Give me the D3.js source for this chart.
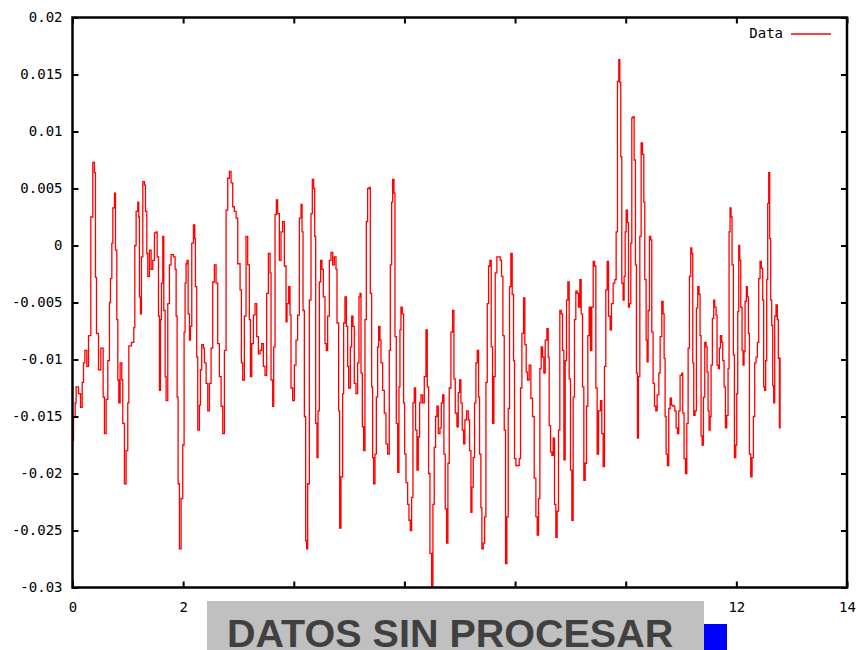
<!DOCTYPE html>
<html><head><meta charset="utf-8">
<script src="https://cdn.jsdelivr.net/npm/d3@7"></script>
<style>body{margin:0;background:#fff}</style>
</head><body>
<svg id="chart" width="859" height="650"></svg>
<script>
const times=[
0.000,0.018,0.048,0.066,0.108,0.145,0.175,0.199,0.223,0.259,
0.289,0.331,0.367,0.397,0.415,0.434,0.470,0.512,0.554,0.578,
0.608,0.638,0.668,0.686,0.711,0.729,0.759,0.777,0.801,0.819,
0.837,0.861,0.891,0.909,0.939,0.969,0.999,1.018,1.066,1.108,
1.126,1.150,1.180,1.198,1.210,1.228,1.246,1.271,1.301,1.319,
1.343,1.361,1.391,1.421,1.451,1.481,1.511,1.530,1.554,1.572,
1.590,1.608,1.632,1.650,1.674,1.692,1.722,1.752,1.782,1.825,
1.855,1.873,1.891,1.909,1.933,1.963,1.993,2.017,2.035,2.053,
2.071,2.090,2.114,2.132,2.156,2.186,2.210,2.222,2.246,2.264,
2.294,2.312,2.336,2.366,2.385,2.415,2.445,2.475,2.505,2.535,
2.565,2.595,2.625,2.655,2.686,2.716,2.746,2.776,2.806,2.836,
2.866,2.896,2.926,2.957,2.987,3.029,3.053,3.077,3.107,3.137,
3.167,3.197,3.216,3.240,3.270,3.300,3.330,3.360,3.390,3.420,
3.450,3.480,3.510,3.541,3.571,3.589,3.619,3.637,3.661,3.685,
3.709,3.739,3.769,3.799,3.830,3.860,3.878,3.908,3.932,3.950,
3.980,4.010,4.040,4.070,4.101,4.131,4.149,4.167,4.191,4.215,
4.233,4.251,4.281,4.311,4.335,4.360,4.378,4.396,4.420,4.438,
4.462,4.486,4.510,4.534,4.564,4.588,4.612,4.643,4.673,4.703,
4.733,4.763,4.781,4.811,4.829,4.853,4.883,4.901,4.925,4.950,
4.974,4.992,5.022,5.046,5.070,5.094,5.124,5.154,5.178,5.197,
5.215,5.239,5.263,5.287,5.311,5.335,5.365,5.383,5.407,5.425,
5.443,5.468,5.492,5.516,5.534,5.558,5.576,5.606,5.636,5.666,
5.696,5.726,5.745,5.769,5.787,5.811,5.829,5.853,5.877,5.901,
5.919,5.937,5.961,5.985,6.004,6.028,6.058,6.082,6.106,6.130,
6.154,6.178,6.202,6.226,6.250,6.274,6.299,6.329,6.359,6.389,
6.413,6.437,6.461,6.491,6.515,6.539,6.563,6.587,6.612,6.642,
6.666,6.690,6.714,6.738,6.762,6.786,6.810,6.840,6.870,6.895,
6.919,6.949,6.973,6.997,7.021,7.045,7.069,7.093,7.123,7.154,
7.178,7.202,7.220,7.244,7.268,7.292,7.316,7.340,7.358,7.382,
7.400,7.425,7.449,7.473,7.497,7.521,7.545,7.569,7.593,7.617,
7.641,7.671,7.702,7.732,7.756,7.780,7.804,7.828,7.852,7.876,
7.900,7.924,7.948,7.972,7.990,8.015,8.045,8.075,8.099,8.123,
8.153,8.177,8.201,8.225,8.255,8.286,8.316,8.346,8.376,8.400,
8.424,8.448,8.472,8.496,8.520,8.545,8.575,8.599,8.617,8.641,
8.665,8.689,8.713,8.737,8.761,8.785,8.809,8.834,8.858,8.882,
8.906,8.930,8.954,8.978,9.002,9.026,9.050,9.074,9.098,9.123,
9.147,9.171,9.195,9.219,9.243,9.267,9.291,9.315,9.339,9.363,
9.387,9.412,9.436,9.460,9.484,9.508,9.544,9.568,9.592,9.616,
9.640,9.665,9.689,9.719,9.743,9.773,9.803,9.827,9.851,9.875,
9.893,9.911,9.929,9.953,9.971,9.990,10.008,10.032,10.050,10.068,
10.092,10.110,10.134,10.152,10.176,10.194,10.212,10.230,10.255,10.279,
10.303,10.327,10.345,10.369,10.387,10.405,10.429,10.453,10.471,10.495,
10.520,10.544,10.568,10.598,10.622,10.652,10.676,10.694,10.712,10.730,
10.754,10.778,10.803,10.827,10.857,10.887,10.911,10.935,10.959,10.983,
11.013,11.031,11.055,11.080,11.104,11.128,11.152,11.176,11.194,11.212,
11.230,11.254,11.278,11.302,11.326,11.344,11.362,11.381,11.405,11.429,
11.453,11.471,11.489,11.507,11.525,11.543,11.567,11.591,11.609,11.633,
11.651,11.675,11.693,11.712,11.736,11.754,11.778,11.802,11.826,11.850,
11.868,11.886,11.904,11.922,11.946,11.965,11.989,12.007,12.025,12.043,
12.061,12.079,12.103,12.121,12.139,12.157,12.181,12.199,12.218,12.236,
12.260,12.284,12.308,12.332,12.356,12.380,12.404,12.428,12.452,12.476,
12.494,12.512,12.530,12.549,12.567,12.585,12.603,12.621,12.639,12.657,
12.675,12.693,12.717,12.741,12.759,12.778,12.790];

const values=[
-0.0171,-0.0150,-0.0138,-0.0124,-0.0130,-0.0142,-0.0120,-0.0103,-0.0092,-0.0106,
-0.0079,0.0025,0.0073,0.0064,-0.0028,-0.0077,-0.0109,-0.0090,-0.0133,-0.0165,
-0.0135,-0.0101,-0.0050,-0.0029,0.0002,0.0033,0.0046,-0.0004,-0.0065,-0.0118,
-0.0138,-0.0103,-0.0118,-0.0156,-0.0209,-0.0180,-0.0138,-0.0088,-0.0085,-0.0072,
0.0000,0.0030,0.0038,0.0025,-0.0045,-0.0060,-0.0010,0.0056,0.0053,0.0030,
-0.0007,-0.0027,-0.0004,-0.0021,-0.0013,0.0011,0.0012,-0.0010,-0.0062,-0.0127,
-0.0065,-0.0033,0.0008,-0.0057,-0.0115,-0.0136,-0.0051,-0.0017,-0.0008,-0.0010,
-0.0021,-0.0062,-0.0133,-0.0209,-0.0266,-0.0222,-0.0175,-0.0076,-0.0033,-0.0016,
-0.0013,-0.0060,-0.0083,-0.0071,0.0002,0.0018,0.0006,-0.0036,-0.0098,-0.0162,
-0.0140,-0.0109,-0.0087,-0.0090,-0.0103,-0.0121,-0.0145,-0.0121,-0.0090,-0.0032,
-0.0017,-0.0033,-0.0086,-0.0115,-0.0141,-0.0165,-0.0092,0.0031,0.0059,0.0065,
0.0055,0.0034,0.0030,0.0024,-0.0016,-0.0039,-0.0103,-0.0118,-0.0062,0.0008,
-0.0017,-0.0065,-0.0115,-0.0086,-0.0061,-0.0051,-0.0080,-0.0095,-0.0092,-0.0086,
-0.0106,-0.0114,-0.0042,-0.0007,-0.0024,-0.0118,-0.0141,-0.0089,0.0027,0.0040,
0.0028,-0.0013,0.0012,0.0021,-0.0018,-0.0067,-0.0051,-0.0036,-0.0061,-0.0125,
-0.0136,-0.0105,-0.0083,-0.0061,0.0024,0.0036,0.0012,-0.0057,-0.0150,-0.0259,
-0.0266,-0.0209,-0.0048,0.0028,0.0058,0.0050,0.0008,-0.0156,-0.0186,-0.0145,
-0.0032,-0.0013,-0.0021,-0.0045,-0.0086,-0.0092,-0.0062,-0.0013,-0.0006,-0.0017,
-0.0010,-0.0021,-0.0068,-0.0145,-0.0248,-0.0203,-0.0130,-0.0068,-0.0045,-0.0071,
-0.0106,-0.0125,-0.0089,-0.0062,-0.0071,-0.0121,-0.0130,-0.0103,-0.0045,-0.0042,
-0.0112,-0.0159,-0.0180,-0.0065,0.0021,0.0050,0.0051,-0.0042,-0.0124,-0.0186,
-0.0209,-0.0183,-0.0133,-0.0089,-0.0071,-0.0083,-0.0103,-0.0127,-0.0147,-0.0174,
-0.0183,-0.0092,-0.0017,0.0038,0.0058,0.0046,-0.0080,-0.0156,-0.0199,-0.0124,
-0.0074,-0.0054,-0.0060,-0.0138,-0.0183,-0.0208,-0.0227,-0.0241,-0.0250,-0.0221,
-0.0138,-0.0125,-0.0162,-0.0197,-0.0168,-0.0138,-0.0131,-0.0138,-0.0115,-0.0074,
-0.0124,-0.0200,-0.0270,-0.0300,-0.0227,-0.0177,-0.0150,-0.0141,-0.0165,-0.0160,
-0.0138,-0.0131,-0.0183,-0.0231,-0.0261,-0.0191,-0.0125,-0.0076,-0.0057,-0.0117,
-0.0147,-0.0159,-0.0129,-0.0118,-0.0138,-0.0162,-0.0174,-0.0153,-0.0145,-0.0153,
-0.0180,-0.0234,-0.0212,-0.0186,-0.0138,-0.0103,-0.0092,-0.0133,-0.0183,-0.0230,
-0.0266,-0.0261,-0.0238,-0.0120,-0.0051,-0.0018,-0.0013,-0.0089,-0.0156,-0.0115,
-0.0024,-0.0010,-0.0010,-0.0013,-0.0027,-0.0079,-0.0162,-0.0279,-0.0238,-0.0143,
-0.0036,-0.0007,-0.0043,-0.0101,-0.0187,-0.0193,-0.0193,-0.0187,-0.0125,-0.0077,
-0.0046,-0.0087,-0.0111,-0.0118,-0.0105,-0.0134,-0.0150,-0.0204,-0.0238,-0.0254,
-0.0222,-0.0108,-0.0089,-0.0098,-0.0112,-0.0083,-0.0073,-0.0098,-0.0158,-0.0181,
-0.0184,-0.0169,-0.0227,-0.0256,-0.0233,-0.0162,-0.0057,-0.0060,-0.0092,-0.0188,
-0.0101,-0.0048,-0.0032,-0.0117,-0.0197,-0.0241,-0.0133,-0.0065,-0.0040,-0.0042,
-0.0054,-0.0030,-0.0060,-0.0124,-0.0206,-0.0191,-0.0141,-0.0079,-0.0054,-0.0092,
-0.0054,-0.0014,-0.0018,-0.0125,-0.0183,-0.0145,-0.0136,-0.0165,-0.0194,-0.0106,
-0.0039,-0.0014,-0.0062,-0.0074,-0.0051,-0.0033,-0.0030,0.0012,0.0144,0.0163,
0.0143,0.0078,-0.0033,-0.0048,-0.0027,0.0012,0.0031,0.0020,-0.0054,-0.0051,
0.0002,0.0112,0.0113,0.0075,-0.0017,-0.0112,-0.0169,-0.0115,0.0008,0.0090,
0.0080,0.0038,-0.0030,-0.0083,-0.0102,-0.0057,0.0008,0.0005,-0.0076,-0.0121,
-0.0141,-0.0145,-0.0131,-0.0112,-0.0080,-0.0049,-0.0060,-0.0099,-0.0150,-0.0183,
-0.0193,-0.0143,-0.0134,-0.0140,-0.0141,-0.0145,-0.0160,-0.0165,-0.0145,-0.0114,
-0.0112,-0.0147,-0.0187,-0.0200,-0.0156,-0.0090,-0.0027,-0.0002,-0.0007,-0.0103,
-0.0149,-0.0145,-0.0055,-0.0036,-0.0043,-0.0079,-0.0167,-0.0175,-0.0133,-0.0085,
-0.0089,-0.0111,-0.0145,-0.0162,-0.0150,-0.0105,-0.0064,-0.0048,-0.0054,-0.0061,
-0.0105,-0.0108,-0.0090,-0.0079,-0.0085,-0.0101,-0.0124,-0.0160,-0.0149,-0.0108,
0.0012,0.0033,0.0025,-0.0017,-0.0096,-0.0186,-0.0175,-0.0130,-0.0058,0.0000,
-0.0013,-0.0054,-0.0092,-0.0105,-0.0093,-0.0049,-0.0036,-0.0045,-0.0077,-0.0183,
-0.0203,-0.0186,-0.0150,-0.0103,-0.0098,-0.0085,-0.0029,-0.0014,-0.0020,-0.0048,
-0.0124,-0.0127,-0.0101,-0.0030,0.0037,0.0064,0.0006,-0.0048,-0.0070,-0.0123,
-0.0138,-0.0062,-0.0052,-0.0065,-0.0099,-0.0160,-0.0098];

const xTicks=[0,2,4,6,8,10,12,14];
const xTickLabels=["0","2","4","6","8","10","12","14"];
const yTicks=[0.02,0.015,0.01,0.005,0,-0.005,-0.01,-0.015,-0.02,-0.025,-0.03];
const yTickLabels=["0.02","0.015","0.01","0.005","0","-0.005","-0.01","-0.015","-0.02","-0.025","-0.03"];
const seriesName="Data";
const overlayTitle="DATOS SIN PROCESAR";

const data=times.map((t,i)=>({t:t,v:values[i]}));
const svg=d3.select("#chart");
svg.append("rect").attr("width",859).attr("height",650).attr("fill","#fff");

const x=d3.scaleLinear().domain([0,14]).range([72.5,847]);
const y=d3.scaleLinear().domain([-0.03,0.02]).range([587.5,17.5]);
const FONT="'DejaVu Sans Mono', 'Liberation Mono', monospace";

svg.append("clipPath").attr("id","plotclip").append("rect")
  .attr("x",x(0)).attr("y",y(0.02)).attr("width",x(14)-x(0)).attr("height",y(-0.03)-y(0.02));

// data line
const line=d3.line().x(d=>x(d.t)).y(d=>y(d.v)).curve(d3.curveStepAfter);
svg.append("path").datum(data).attr("clip-path","url(#plotclip)")
  .attr("fill","none").attr("stroke","#ff0000").attr("stroke-width",1.3)
  .attr("d",line);

function styleAxis(g){
  g.select(".domain").remove();
  g.selectAll(".tick line").attr("stroke","#000").attr("stroke-width",2);
  g.selectAll(".tick text").attr("font-family",FONT).attr("font-size",14).attr("fill","#000");
}
svg.append("g").attr("transform",`translate(0,${y(-0.03)})`)
  .call(d3.axisBottom(x).tickValues(xTicks).tickSize(-6).tickPadding(15).tickFormat((d,i)=>xTickLabels[i]))
  .call(styleAxis);
svg.append("g").attr("transform",`translate(0,${y(0.02)})`)
  .call(d3.axisTop(x).tickValues(xTicks).tickSize(-6).tickFormat(""))
  .call(styleAxis);
svg.append("g").attr("transform",`translate(${x(0)},0)`)
  .call(d3.axisLeft(y).tickValues(yTicks).tickSize(-6).tickPadding(10).tickFormat((d,i)=>yTickLabels[i]))
  .call(styleAxis);
svg.append("g").attr("transform",`translate(${x(14)},0)`)
  .call(d3.axisRight(y).tickValues(yTicks).tickSize(-6).tickFormat(""))
  .call(styleAxis);

// frame
svg.append("rect").attr("x",x(0)).attr("y",y(0.02))
  .attr("width",x(14)-x(0)).attr("height",y(-0.03)-y(0.02))
  .attr("fill","none").attr("stroke","#000").attr("stroke-width",2.5);

// legend
const lg=svg.append("g");
lg.append("text").attr("x",783).attr("y",34).attr("text-anchor","end")
  .attr("dominant-baseline","middle").attr("font-family",FONT).attr("font-size",14)
  .attr("fill","#000").text(seriesName);
lg.append("line").attr("x1",791).attr("x2",831).attr("y1",34).attr("y2",34)
  .attr("stroke","#ff0000").attr("stroke-width",1.3);

// overlay caption
svg.append("rect").attr("x",207).attr("y",601).attr("width",497).attr("height",49).attr("fill","#c0c0c0");
svg.append("text").attr("x",227).attr("y",647)
  .attr("font-family","'Liberation Sans', Arial, sans-serif").attr("font-weight","bold")
  .attr("font-size",39.5).attr("fill","#404040").text(overlayTitle);
svg.append("rect").attr("x",704).attr("y",624).attr("width",23).attr("height",26).attr("fill","#0000ff");
</script>
</body></html>
